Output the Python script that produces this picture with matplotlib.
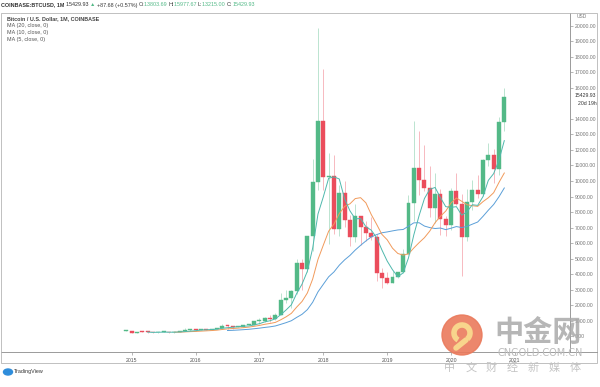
import matplotlib
matplotlib.use("Agg")
import matplotlib.pyplot as plt
import numpy as np
import pandas as pd
from matplotlib.patches import Rectangle, Ellipse, Arc
from matplotlib.lines import Line2D

# ---------------- data ----------------
months = pd.period_range("2014-12", "2020-11", freq="M")

opens = [300,
         318, 217, 254, 244, 236, 230, 263, 284, 230, 236, 314, 377,
         430, 368, 437, 416, 448, 530, 673, 624, 575, 609, 700, 742,
         964, 970, 1190, 1080, 1350, 2300, 2480, 2875, 4735, 4340, 6450, 9950,
         13880, 10265, 10330, 6925, 9245, 7500, 6390, 7730, 7030, 6625, 6370, 4040,
         3740, 3410, 3820, 4100, 5320, 8550, 10820, 10080, 9580, 8290, 9150, 7540,
         7170, 9350, 8520, 6410, 8620, 9450, 9140, 11350, 11655, 10780, 13803.69]
highs = [378,
         320, 265, 300, 261, 247, 268, 318, 286, 245, 334, 502, 466,
         462, 448, 440, 468, 548, 778, 705, 626, 632, 740, 755, 980,
         1150, 1215, 1350, 1510, 2760, 3000, 2950, 4980, 4980, 6470, 11400, 19891.99,
         17250, 11790, 11700, 9770, 9990, 7780, 8500, 7750, 7410, 7680, 6580, 4410,
         4140, 4200, 4140, 5600, 9080, 13880, 13200, 12330, 10950, 10540, 9510, 7750,
         9580, 10500, 9190, 9470, 10080, 10380, 11450, 12470, 12090, 14100, 15977.67]
lows = [300,
        170, 212, 236, 214, 228, 220, 252, 198, 225, 236, 308, 346,
        350, 365, 395, 414, 438, 520, 470, 480, 570, 605, 685, 740,
        755, 935, 890, 1060, 1340, 2100, 1830, 2680, 2970, 4100, 5500, 9400,
        9400, 5920, 6600, 6430, 7060, 5780, 6070, 5880, 6100, 6200, 3550, 3120,
        3350, 3390, 3740, 4080, 5320, 7440, 9070, 9350, 7710, 7300, 6520, 6430,
        6860, 8450, 3850, 6150, 8130, 8900, 9040, 10960, 9880, 10380, 13215.00]
closes = [318,
          217, 254, 244, 236, 230, 263, 284, 230, 236, 314, 377, 430,
          368, 437, 416, 448, 530, 673, 624, 575, 609, 700, 742, 964,
          970, 1190, 1080, 1350, 2300, 2480, 2875, 4735, 4340, 6450, 9950, 13880,
          10265, 10330, 6925, 9245, 7500, 6390, 7730, 7030, 6625, 6370, 4040, 3740,
          3410, 3820, 4100, 5320, 8550, 10820, 10080, 9580, 8290, 9150, 7540, 7170,
          9350, 8520, 6410, 8620, 9450, 9140, 11350, 11655, 10780, 13800, 15429.93]

ma_periods = [20, 10, 5]
ma_colors = ["#5b9fd8", "#f19a5b", "#4fb8ad"]
year_ticks = [2015, 2016, 2017, 2018, 2019, 2020, 2021]
price_ticks = [0, 1000, 2000, 3000, 4000, 5000, 6000, 7000, 8000, 9000, 10000,
               11000, 12000, 13000, 14000, 16000, 17000, 18000, 19000, 20000]
last_price = 15429.93

UP = "#53b987"
DOWN = "#eb4d5c"

# ---------------- figure ----------------
W, H = 600, 387
fig = plt.figure(figsize=(W / 100, H / 100), dpi=100)
fig.patch.set_facecolor("white")

def fx(px):
    return px / W

def fy(py):
    return 1 - py / H

ax = fig.add_axes([fx(1), fy(352), fx(570) - fx(1), fy(13) - fy(352)])
ax.set_facecolor("white")

x = np.array([m.year + (m.month - 1) / 12 for m in months])
o = np.array(opens); h = np.array(highs); l = np.array(lows); c = np.array(closes)
up = c >= o
colors = np.where(up, UP, DOWN)

# wicks
for xi, hi, lo, col in zip(x, h, l, colors):
    ax.vlines(xi, lo, hi, color=col, alpha=0.45, lw=0.6, zorder=2)
# bodies
body_bottom = np.minimum(o, c)
body_h = np.maximum(np.abs(c - o), 60)
ax.bar(x, body_h, bottom=body_bottom, width=0.062, color=colors,
       edgecolor=colors, linewidth=0.3, zorder=3)

# moving averages
cs = pd.Series(closes)
for p, col in zip(ma_periods, ma_colors):
    ma = cs.rolling(p).mean()
    ax.plot(x, ma, color=col, lw=0.7, zorder=4)

ax.set_xlim(2012.954, 2021.862)
ax.set_ylim(-1029, 20836)

for s in ["top", "left"]:
    ax.spines[s].set_visible(False)
ax.spines["right"].set_color("#9a9a9a")
ax.spines["bottom"].set_color("#9a9a9a")
ax.spines["right"].set_linewidth(0.7)
ax.spines["bottom"].set_linewidth(0.7)

ax.yaxis.tick_right()
ax.set_yticks(price_ticks)
ax.set_yticklabels([f"{v:.2f}" for v in price_ticks])
ax.tick_params(axis="y", length=2, width=0.5, color="#9a9a9a", pad=1.5,
               labelsize=3.7, labelcolor="#777777")
ax.set_xticks(year_ticks)
ax.set_xticklabels([str(y) for y in year_ticks])
ax.tick_params(axis="x", length=2, width=0.5, color="#9a9a9a", pad=2.5,
               labelsize=3.7, labelcolor="#555555")
for lab in ax.get_xticklabels() + ax.get_yticklabels():
    lab.set_family("Liberation Sans")

# last price label
ax.annotate(f"{last_price:.2f}", xy=(1, last_price), xycoords=("axes fraction", "data"),
            xytext=(3, 1), textcoords="offset points", fontsize=3.7,
            color="#333333", va="center", ha="left", family="Liberation Sans")
ax.annotate("20d 19h", xy=(1, last_price), xycoords=("axes fraction", "data"),
            xytext=(6, -5), textcoords="offset points", fontsize=3.7,
            color="#333333", va="center", ha="left", family="Liberation Sans")

# frame lines
fig.add_artist(Rectangle((fx(1), fy(363)), fx(597) - fx(1), fy(13) - fy(363),
                         transform=fig.transFigure, fill=False,
                         edgecolor="#b5b5b5", lw=0.6))
fig.add_artist(Line2D([fx(570), fx(597)], [fy(352), fy(352)],
                      transform=fig.transFigure, color="#9a9a9a", lw=0.7))
fig.text(fx(582), fy(17), "USD", fontsize=3.5, color="#777777", ha="center",
         va="center", family="Liberation Sans")

# header
fig.canvas.draw()
renderer = fig.canvas.get_renderer()
pieces = [("COINBASE:BTCUSD, 1M ", "#333333", "bold"),
          ("15429.93 ", "#333333", "normal"),
          ("▲ ", "#53b987", "normal"),
          ("+87.68 (+0.57%) ", "#333333", "normal"),
          ("O:", "#333333", "normal"), ("13803.69 ", "#53b987", "normal"),
          ("H:", "#333333", "normal"), ("15977.67 ", "#53b987", "normal"),
          ("L:", "#333333", "normal"), ("13215.00 ", "#53b987", "normal"),
          ("C:", "#333333", "normal"), ("15429.93", "#53b987", "normal")]
cx = 1.0
for txt, col, wt in pieces:
    t = fig.text(fx(cx), fy(5), txt, fontsize=3.9, color=col, weight=wt,
                 va="center", ha="left", family=["Liberation Sans", "DejaVu Sans"])
    bb = t.get_window_extent(renderer)
    cx += bb.width

# legend texts
leg = [("Bitcoin / U.S. Dollar, 1M, COINBASE", "#444444", "bold", 18.5),
       ("MA (20, close, 0)", "#555555", "normal", 25.7),
       ("MA (10, close, 0)", "#555555", "normal", 32.8),
       ("MA (5, close, 0)", "#555555", "normal", 40.0)]
for txt, col, wt, yy in leg:
    fig.text(fx(7), fy(yy), txt, fontsize=3.9, color=col, weight=wt,
             va="center", ha="left", family="Liberation Sans")

# TradingView logo
fig.add_artist(Ellipse((fx(8), fy(372)), fx(9), 6 / H, transform=fig.transFigure,
                       color="#2e8ddb"))
fig.text(fx(14), fy(372), "TradingView", fontsize=3.9, color="#333333",
         va="center", ha="left", family="Liberation Sans")

# watermark
fig.add_artist(Ellipse((fx(462), fy(335)), 40 / W, 40 / H, transform=fig.transFigure,
                       color="#ea7a5c", alpha=0.9, zorder=10))
fig.add_artist(Arc((fx(462), fy(333)), 16 / W, 16 / H, theta1=-60, theta2=250,
                   transform=fig.transFigure, color="#f8d58c", lw=4, zorder=11))
fig.add_artist(Line2D([fx(466), fx(456)], [fy(340), fy(348)], transform=fig.transFigure,
                      color="#f8d58c", lw=4, zorder=11, solid_capstyle="round"))
fig.text(fx(538), fy(332), "中金网", fontsize=21, color="#a9a9a9", alpha=0.85,
         ha="center", va="center", weight="bold",
         family=["Noto Sans CJK SC", "DejaVu Sans"], zorder=12)
fig.text(fx(540), fy(353.5), "CNGOLD.COM.CN", fontsize=7, color="#bcbcbc",
         ha="center", va="center", family="DejaVu Sans", zorder=12)
for i, ch in enumerate("中文财经新媒体"):
    fig.text(fx(450 + i * 20.8), fy(368), ch, fontsize=8, color="#c4c4c4",
             ha="center", va="center", family=["Noto Sans CJK SC", "DejaVu Sans"],
             zorder=12)

fig.savefig("out.png", dpi=100, facecolor="white")
